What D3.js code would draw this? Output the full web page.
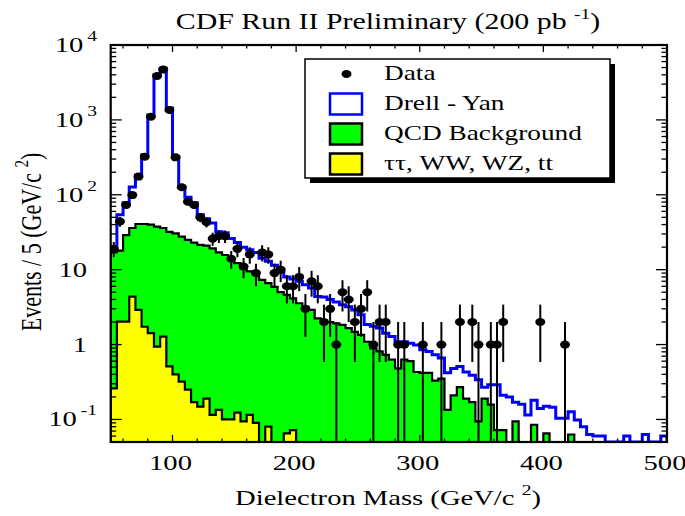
<!DOCTYPE html>
<html><head><meta charset="utf-8">
<script src="https://cdn.jsdelivr.net/npm/d3@7"></script>
<style>body{margin:0;background:#fff;} svg{display:block;}</style>
</head><body>
<svg id="c" width="685" height="516"></svg>
<script>
// ---- data (5 GeV bins from 50 to 500 GeV/c^2) ----
const binStart = 50, binWidth = 5;
const totalDY = [20,54,78,127,184,340,1160,3980,4890,1440,
 320,127,93,78,54,48,42,32,31,26,
 23,20,18.5,17,14.2,13,11.5,9.5,8.0,7.5,
 7.0,6.3,5.7,4.4,4.3,4.0,3.7,3.4,3.2,2.9,
 2.5,1.85,1.76,1.66,1.42,1.28,1.09,1.09,1.04,0.99,
 0.85,0.81,0.73,0.66,0.42,0.48,0.51,0.43,0.39,0.34,
 0.27,0.29,0.29,0.21,0.2,0.17,0.16,0.115,0.18,0.14,
 0.15,0.145,0.104,0.104,0.127,0.098,0.08,0.063,0.06,0.06,
 0.05,0.05,0.05,0.06,0.05,0.05,0.063,0.05,0.05,0.06];
const qcdStack = [17,18,29,36,40.7,40.7,40,37.5,36,32,
 30.6,27.6,25,22.9,21.5,21,19.3,17,15.7,14.2,
 12.2,10.4,9.5,8.9,7.3,6.6,5.9,5.0,4.6,4.15,
 3.56,3.2,2.9,2.24,2.1,2.0,1.92,1.83,1.66,1.48,
 1.35,1.09,0.89,0.81,0.73,0.63,0.48,0.63,0.6,0.43,
 0.42,0.42,0.33,0.35,0.134,0.21,0.27,0.19,0.17,0.094,
 0.19,0.158,0.072,0.072,0,0.094,0,0,0.085,0,
 0.065,0,0,0,0.063,0,0,0,0,0,
 0,0,0,0,0,0,0,0,0,0];
const otherBkg = [0.26,2.02,2.02,4.37,2.9,1.73,1.42,0.94,1.28,0.51,
 0.4,0.32,0.25,0.17,0.148,0.19,0.115,0.134,0.1,0.1,
 0.123,0.094,0.115,0.09,0,0.08,0,0,0.065,0.072,
 0,0,0,0,0,0,0,0,0,0,
 0,0,0,0,0,0,0,0,0,0,
 0,0,0,0,0,0,0,0,0,0,
 0,0,0,0,0,0,0,0,0,0,
 0,0,0,0,0,0,0,0,0,0,
 0,0,0,0,0,0,0,0,0,0];
const dataCounts = [19,44,73,99,175,323,1100,3860,4700,1355,
 316,126,81,73,50,43,26,28,28,14,
 19,11,16,9,17,16,9,10,6,6,
 8,3,7,6,2,3,1,5,4,2,
 3,5,1,2,2,0,1,1,0,0,
 1,0,0,1,0,0,2,0,2,1,
 0,1,1,2,0,0,0,0,0,2,
 0,0,0,1,0,0,0,0,0,0,
 0,0,0,0,0,0,0,0,0,0];
const xMajorTicks = [100,200,300,400,500];
const yMajorTicks = [0.1,1,10,100,1000,10000];
const yTickExp = ["-1","","","2","3","4"];
const yTickBase = ["10","1","10","10","10","10"];
const legendLabels = ["Data","Drell - Yan","QCD Background","\u03c4\u03c4, WW, WZ, tt"];
const titleText = "CDF Run II Preliminary (200 pb ";
const titleSup = "-1";
const xTitle = "Dielectron Mass (GeV/c ";
const yTitle = "Events / 5 (GeV/c ";

// ---- layout ----
const L = 110.7, R = 667, T = 45, B = 442;
const yMin = 0.05, yMax = 10000;
const SX = 1.3; // horizontal stretch of text
const FONT = "'Liberation Serif','Times New Roman',serif";
const svg = d3.select("#c");
const x = d3.scaleLinear().domain([50, 500]).range([L, R]);
const y = d3.scaleLog().domain([yMin, yMax]).range([B, T]).clamp(true);
const yv = v => (v > yMin ? y(v) : B);

svg.append("defs").append("clipPath").attr("id","clip")
  .append("rect").attr("x",L).attr("y",T).attr("width",R-L).attr("height",B-T);
const plot = svg.append("g").attr("clip-path","url(#clip)");

function stepPath(vals) {
  let p = `M${x(binStart)},${B}`;
  vals.forEach((v,i) => {
    const yy = yv(v);
    p += `L${x(binStart+i*binWidth)},${yy}L${x(binStart+(i+1)*binWidth)},${yy}`;
  });
  p += `L${x(binStart+vals.length*binWidth)},${B}`;
  return p;
}

// Drell-Yan total (blue outline)
plot.append("path").attr("d", stepPath(totalDY)).attr("fill","white")
  .attr("stroke","#0000ff").attr("stroke-width",3).attr("stroke-linejoin","miter");
// QCD (green, black outline)
plot.append("path").attr("d", stepPath(qcdStack)).attr("fill","#00ff00")
  .attr("stroke","#000").attr("stroke-width",2.2);
// other (yellow)
plot.append("path").attr("d", stepPath(otherBkg)).attr("fill","#ffff00")
  .attr("stroke","#000").attr("stroke-width",2.2);

// data points
const pts = dataCounts.map((n,i)=>({n, c: binStart+(i+0.5)*binWidth})).filter(d=>d.n>0);
const dg = plot.append("g");
pts.forEach(d => {
  const e = Math.sqrt(d.n);
  const yl = yv(d.n - e), yh = yv(d.n + e);
  dg.append("line").attr("x1",x(d.c)).attr("x2",x(d.c)).attr("y1",yl).attr("y2",yh)
    .attr("stroke","#000").attr("stroke-width",2);
  dg.append("ellipse").attr("cx",x(d.c)).attr("cy",y(d.n)).attr("rx",5).attr("ry",4).attr("fill","#000");
});

// frame
svg.append("rect").attr("x",L).attr("y",T).attr("width",R-L).attr("height",B-T)
  .attr("fill","none").attr("stroke","#000").attr("stroke-width",2.2);

// ticks
const tg = svg.append("g").attr("stroke","#000").attr("stroke-width",1.3);
d3.range(60, 501, 20).forEach(v => {
  const len = xMajorTicks.includes(v) ? 7 : 3.5;
  tg.append("line").attr("x1",x(v)).attr("x2",x(v)).attr("y1",B).attr("y2",B-len);
  tg.append("line").attr("x1",x(v)).attr("x2",x(v)).attr("y1",T).attr("y2",T+len);
});
y.ticks().forEach(v => {
  const major = Math.abs(Math.log10(v) - Math.round(Math.log10(v))) < 1e-9;
  const len = major ? 11 : 5.5;
  tg.append("line").attr("x1",L).attr("x2",L+len).attr("y1",y(v)).attr("y2",y(v));
  tg.append("line").attr("x1",R).attr("x2",R-len).attr("y1",y(v)).attr("y2",y(v));
});

function stext(px, py, anchor, size, extra) {
  return svg.append("text")
    .attr("transform", `translate(${px},${py}) scale(${SX},1)` + (extra||""))
    .attr("text-anchor", anchor).attr("font-family", FONT).attr("font-size", size).attr("fill","#000");
}

// x tick labels
xMajorTicks.forEach(v => { stext(x(v)-2, 470, "middle", 22).text(v); });

// y tick labels
yMajorTicks.forEach((v,i) => {
  const yy = y(v) + 7;
  if (yTickExp[i]) {
    const t = stext(97, yy, "end", 22);
    t.append("tspan").text(yTickBase[i]);
    t.append("tspan").attr("dx", 3).attr("dy", -11).attr("font-size", 15).text(yTickExp[i]);
  } else {
    stext(87, yy, "end", 22).text(yTickBase[i]);
  }
});

// title
const tt = stext(388, 29, "middle", 23);
tt.append("tspan").text(titleText);
tt.append("tspan").attr("dy",-10).attr("font-size",15).text(titleSup);
tt.append("tspan").attr("dy",10).text(")");

// x axis title
const xt = stext(388, 505, "middle", 22);
xt.append("tspan").text(xTitle);
xt.append("tspan").attr("dy",-10).attr("font-size",15).text("2");
xt.append("tspan").attr("dy",10).text(")");

// y axis title
const yt = stext(41, 242, "middle", 22, " rotate(-90)");
yt.append("tspan").text(yTitle);
yt.append("tspan").attr("dy",-10).attr("font-size",15).text("2");
yt.append("tspan").attr("dy",10).text(")");

// legend
svg.append("rect").attr("x",310).attr("y",64).attr("width",305).attr("height",119).attr("fill","#000");
svg.append("rect").attr("x",305).attr("y",59).attr("width",305).attr("height",119)
  .attr("fill","#fff").attr("stroke","#000").attr("stroke-width",1.5);
const rowsY = [80, 110, 140, 170];
svg.append("ellipse").attr("cx",346.5).attr("cy",74).attr("rx",5).attr("ry",4).attr("fill","#000");
const boxes = [{s:"#0000ff",f:"#fff"},{s:"#000",f:"#00ff00"},{s:"#000",f:"#ffff00"}];
boxes.forEach((b,i) => {
  svg.append("rect").attr("x",330).attr("y",rowsY[i+1]-16.5).attr("width",32).attr("height",21)
    .attr("fill",b.f).attr("stroke",b.s).attr("stroke-width",2.5);
});
legendLabels.forEach((lab,i) => { stext(384, rowsY[i], "start", 21).text(lab); });
</script>
</body></html>
